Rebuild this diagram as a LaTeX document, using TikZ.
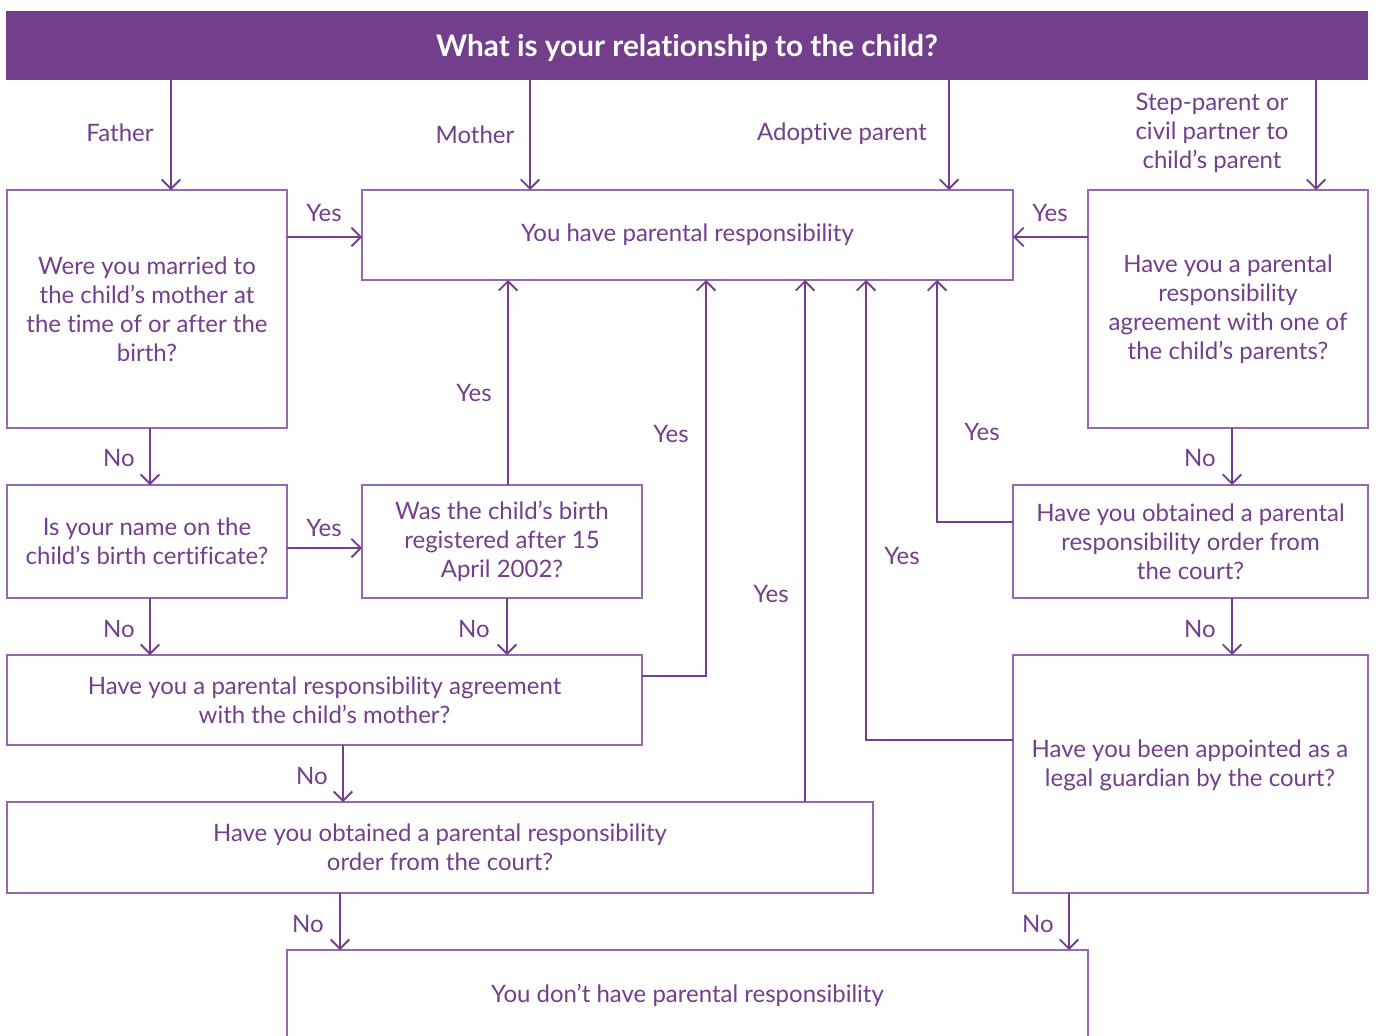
\documentclass[tikz,border=0pt]{standalone}
\usepackage{fontspec}
\setmainfont[Ligatures={CommonOff}]{Lato}
\usetikzlibrary{arrows.meta}
\definecolor{pur}{RGB}{115,62,140}
\definecolor{purl}{RGB}{150,105,175}
\begin{document}
\begin{tikzpicture}[x=0.75pt,y=-0.75pt,
 box/.style={draw=purl,line width=1.2pt,inner sep=0pt,outer sep=0pt,align=center,text=pur,font=\fontsize{18}{21.75}\selectfont},
 conn/.style={draw=pur,line width=1.4pt,-{Straight Barb[length=7pt,width=14pt,line width=1.4pt]}},
 lbl/.style={text=pur,font=\fontsize{18}{21.75}\selectfont,inner sep=0pt,align=center}]
\useasboundingbox (0,0) rectangle (1376,1035);
% header
\node[fill=pur,inner sep=0pt,minimum width=1362*0.75pt,minimum height=69*0.75pt] (H) at (687,45.5) {};
\node[text=white,inner sep=0pt,font=\bfseries\fontsize{22.3}{26}\selectfont] (Ht) at (687,48) {What is your relationship to the child?};
% boxes
\node[box,minimum width=280*0.75pt,minimum height=238*0.75pt] (A) at (147,309) {Were you married to\\the child’s mother at\\the time of or after the\\birth?};
\node[box,minimum width=651*0.75pt,minimum height=90*0.75pt] (PR) at (687.5,235) {You have parental responsibility};
\node[box,minimum width=280*0.75pt,minimum height=238*0.75pt] (S) at (1228,309) {Have you a parental\\responsibility\\agreement with one of\\the child’s parents?};
\node[box,minimum width=280*0.75pt,minimum height=113*0.75pt] (N) at (147,541.5) {Is your name on the\\child’s birth certificate?};
\node[box,minimum width=280*0.75pt,minimum height=113*0.75pt] (R) at (502,541.5) {Was the child’s birth\\registered after 15\\April 2002?};
\node[box,minimum width=355*0.75pt,minimum height=113*0.75pt] (O2) at (1190.5,541.5) {Have you obtained a parental\\responsibility order from\\the court?};
\node[box,minimum width=635*0.75pt,minimum height=90*0.75pt] (M) at (324.5,700) {Have you a parental responsibility agreement\\with the child’s mother?};
\node[box,minimum width=355*0.75pt,minimum height=238*0.75pt] (G) at (1190.5,774) {};
\node[lbl] (Gt) at (1190,765) {Have you been appointed as a\\legal guardian by the court?};
\node[box,minimum width=866*0.75pt,minimum height=91*0.75pt] (O1) at (440,847.5) {Have you obtained a parental responsibility\\order from the court?};
\node[box,minimum width=801*0.75pt,minimum height=90*0.75pt] (D) at (687.5,995) {You don’t have parental responsibility};
% x positions
\coordinate (xf) at (171,0);
\coordinate (xm) at (530,0);
\coordinate (xa) at (949,0);
\coordinate (xs) at (1316,0);
\coordinate (xn) at (150,0);
\coordinate (xr) at (508,0);
\coordinate (xrn) at (507,0);
\coordinate (xma) at (706,0);
\coordinate (xo1) at (805,0);
\coordinate (xg) at (866,0);
\coordinate (xo2) at (937,0);
\coordinate (xsn) at (1232,0);
\coordinate (xmn) at (343,0);
\coordinate (xd1) at (340,0);
\coordinate (xd2) at (1069,0);
\coordinate (y1) at (0,237);
\coordinate (y2) at (0,548);
\coordinate (y3) at (0,676);
\coordinate (y4) at (0,740);
\coordinate (y5) at (0,522);
% top arrows
\draw[conn] (xf |- H.south) -- (xf |- A.north);
\draw[conn] (xm |- H.south) -- (xm |- PR.north);
\draw[conn] (xa |- H.south) -- (xa |- PR.north);
\draw[conn] (xs |- H.south) -- (xs |- S.north);
\node[lbl] (lf) at (120,133) {Father};
\node[lbl] (lm) at (475,135) {Mother};
\node[lbl] (la) at (842,134) {Adoptive parent};
\node[lbl] (ls) at (1212,133) {Step-parent or\\civil partner to\\child’s parent};
% yes arrows
\draw[conn] (A.east |- y1) -- (PR.west |- y1);
\node[lbl] (l1) at (324,213) {Yes};
\draw[conn] (S.west |- y1) -- (PR.east |- y1);
\node[lbl] (l2) at (1050,213) {Yes};
\draw[conn] (N.east |- y2) -- (R.west |- y2);
\node[lbl] (l3) at (324,528) {Yes};
\draw[conn] (xr |- R.north) -- (xr |- PR.south);
\node[lbl] (l4) at (474,393) {Yes};
\draw[conn] (M.east |- y3) -- (xma |- y3) -- (xma |- PR.south);
\node[lbl] (l5) at (671,434) {Yes};
\draw[conn] (xo1 |- O1.north) -- (xo1 |- PR.south);
\node[lbl] (l6) at (771,594) {Yes};
\draw[conn] (G.west |- y4) -- (xg |- y4) -- (xg |- PR.south);
\node[lbl] (l7) at (902,556) {Yes};
\draw[conn] (O2.west |- y5) -- (xo2 |- y5) -- (xo2 |- PR.south);
\node[lbl] (l8) at (982,432) {Yes};
% no arrows
\draw[conn] (xn |- A.south) -- (xn |- N.north);
\node[lbl] (n1) at (119,458) {No};
\draw[conn] (xn |- N.south) -- (xn |- M.north);
\node[lbl] (n2) at (119,629) {No};
\draw[conn] (xrn |- R.south) -- (xrn |- M.north);
\node[lbl] (n3) at (474,629) {No};
\draw[conn] (xmn |- M.south) -- (xmn |- O1.north);
\node[lbl] (n4) at (312,776) {No};
\draw[conn] (xsn |- S.south) -- (xsn |- O2.north);
\node[lbl] (n5) at (1200,458) {No};
\draw[conn] (xsn |- O2.south) -- (xsn |- G.north);
\node[lbl] (n6) at (1200,629) {No};
\draw[conn] (xd1 |- O1.south) -- (xd1 |- D.north);
\node[lbl] (n7) at (308,924) {No};
\draw[conn] (xd2 |- G.south) -- (xd2 |- D.north);
\node[lbl] (n8) at (1038,924) {No};
\end{tikzpicture}
\end{document}
